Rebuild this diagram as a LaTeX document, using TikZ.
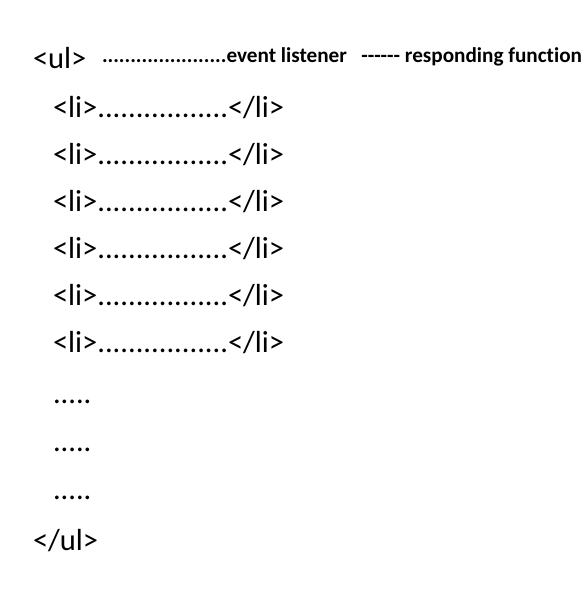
\documentclass[tikz,border=0pt]{standalone}
\usepackage{fontspec}
\setmainfont{Carlito}[Ligatures={TeXOff,NoCommon}]
\begin{document}
\begin{tikzpicture}[x=1pt,y=-1pt,
  tag/.style={anchor=base west,inner sep=0pt,outer sep=0pt,font=\fontsize{30.5}{36}\selectfont},
  note/.style={anchor=base west,inner sep=0pt,outer sep=0pt,font=\fontsize{21.2}{25}\selectfont\bfseries}]
\useasboundingbox[fill=white] (0,0) rectangle (588,592);
\node[tag] (ul) at (33,68) {<ul>};
\node[note] (ev) at (102,62) {......................event listener\ \ \ ------ responding function};
\node[tag] (li1) at (53,117) {<li>.................</li>};
\node[tag] (li2) at (53,164) {<li>.................</li>};
\node[tag] (li3) at (53,211) {<li>.................</li>};
\node[tag] (li4) at (53,258) {<li>.................</li>};
\node[tag] (li5) at (53,305) {<li>.................</li>};
\node[tag] (li6) at (53,352) {<li>.................</li>};
\node[tag] (d1) at (53,403) {.....};
\node[tag] (d2) at (53,451) {.....};
\node[tag] (d3) at (53,499) {.....};
\node[tag] (eul) at (33,550) {</ul>};
\end{tikzpicture}
\end{document}
